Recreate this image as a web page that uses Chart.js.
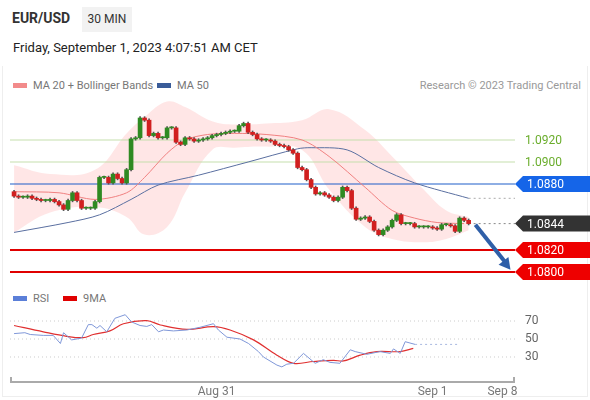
<!DOCTYPE html>
<html>
<head>
<meta charset="UTF-8">
<style>
  body { margin: 0; width: 590px; height: 400px; overflow: hidden; background: #fff; font-family: Roboto, 'Noto Sans', sans-serif; position: relative; }
  .frame { position: absolute; left: 2px; top: 66px; width: 584px; height: 330px; border: 1px solid #eee; border-top: none; }
  .sym { position: absolute; left: 12px; top: 10px; font-size: 14px; font-weight: bold; color: #333; }
  .tf { position: absolute; left: 82px; top: 7px; width: 50px; height: 25px; line-height: 25px; text-align: center; background: #f2f2f2; font-size: 12px; color: #333; }
  .date { position: absolute; left: 13px; top: 40px; font-size: 13px; color: #222; }
  .lg { position: absolute; font-size: 11px; color: #777; }
  .sw { display: inline-block; width: 14px; height: 5px; vertical-align: middle; margin-right: 6px; position: relative; top: -1px; }
  canvas { position: absolute; left: 0; }
</style>
<script src="https://cdn.jsdelivr.net/npm/chart.js"></script>
</head>
<body>
<div class="frame"></div>
<div class="sym">EUR/USD</div>
<div class="tf">30 MIN</div>
<div class="date">Friday, September 1, 2023 4:07:51 AM CET</div>
<div class="lg" style="left:13px;top:79px"><span class="sw" style="background:#f28b8b"></span>MA 20 + Bollinger Bands</div>
<div class="lg" style="left:157px;top:79px"><span class="sw" style="background:#3a5c99"></span>MA 50</div>
<div class="lg" style="right:9px;top:79px;color:#999">Research © 2023 Trading Central</div>
<div class="lg" style="left:13px;top:292px"><span class="sw" style="background:#5b7fd8"></span>RSI</div>
<div class="lg" style="left:63px;top:292px"><span class="sw" style="background:#e00000"></span>9MA</div>
<div style="position:absolute;left:0;top:95px;width:590px;height:190px"><canvas id="main"></canvas></div>
<div style="position:absolute;left:0;top:305px;width:590px;height:95px"><canvas id="rsi"></canvas></div>
<script>
// candle closes (open = previous close)
const closes = [1.0869,1.0868,1.0868,1.0869,1.0867,1.0866,1.0865,1.0865,1.0866,1.0864,
  1.0861,1.0857,1.0865,1.0872,1.0865,1.0858,1.0858,1.0858,1.0864,1.0886,
  1.0886,1.0881,1.0889,1.0885,1.0881,1.0893,1.0921,1.0922,1.0940,1.0938,
  1.0924,1.0926,1.0922,1.0922,1.0931,1.0931,1.0918,1.0916,1.0922,1.0921,
  1.0919,1.0920,1.0921,1.0922,1.0924,1.0925,1.0926,1.0927,1.0928,1.0928,
  1.0933,1.0935,1.0927,1.0925,1.0921,1.0920,1.0920,1.0919,1.0916,1.0915,
  1.0914,1.0911,1.0908,1.0895,1.0893,1.0884,1.0877,1.0871,1.0872,1.0870,
  1.0868,1.0865,1.0868,1.0877,1.0874,1.0858,1.0848,1.0849,1.0850,1.0846,
  1.0838,1.0834,1.0838,1.0841,1.0847,1.0852,1.0844,1.0844,1.0844,1.0841,
  1.0841,1.0841,1.0841,1.0840,1.0839,1.0843,1.0843,1.0842,1.0837,1.0849,
  1.0847,1.0844];
const firstOpen = 1.0873;
const ma20X = [0,10,18,25,29,34,38,43,49,56,64,70,78,84,89,94,100];
const ma20 = [1.0873,1.0872,1.0866,1.0872,1.0886,1.0908,1.0920,1.0925,1.0926,1.0925,1.0920,1.0905,1.0877,1.0856,1.0849,1.0845,1.0844];
const ma50X = [0,12,19,26,32,41,52,63,66,74,81,89,101];
const ma50 = [1.0836,1.0845,1.0852,1.0866,1.0879,1.0888,1.0900,1.0912,1.0913,1.0911,1.0895,1.0881,1.0867];
const bandX = [0,8,18,25,29,34,38,44,49,56,64,70,78,84,91,96,101];
const bandUpper = [1.0897,1.0889,1.0893,1.0926,1.0941,1.0955,1.0950,1.0937,1.0934,1.0935,1.0938,1.0948,1.0929,1.0905,1.0875,1.0856,1.0850];
const bandLower = [1.0836,1.0854,1.0859,1.0850,1.0834,1.0841,1.0872,1.0911,1.0913,1.0914,1.0911,1.0875,1.0841,1.0830,1.0827,1.0830,1.0838];
const resistLevels = [1.0920, 1.0900];
const pivotLevel = 1.0880;
const lastPrice = 1.0844;
const supportLevels = [1.0820, 1.0800];
const rsiX = [0,2.4,3.6,6.5,8.7,10.3,11,12.8,15,16.5,17.3,18.4,19.1,20.6,22.4,24.7,26.1,28,29.5,30.6,32.1,33.2,35.4,38.4,41.3,44.3,45.4,47.3,50.2,52.1,54.3,55.4,58.4,59.5,60.6,62.1,64.3,66.9,68.7,70.2,72.4,74.7,75.8,78.4,81.3,83.6,84.3,85.8,86.9,89.1];
const rsi = [56,57,55,54,54,45,57,49,51,66,66,62,65,58,73,77,69,65,64,66,58,60,59,60,63,67,60,52,50,45,36,30,21,19,22,23,34,23,27,24,23,38,36,33,36,34,39,34,47,44];
const ma9X = [0,6.5,11.7,15.4,17.6,21.3,24.3,29.5,32.5,38.4,44.3,48,53.2,58.4,62.1,66.5,71,73.2,76.9,80.6,85.8,88.7];
const ma9 = [65,58,53,51.5,55,59,67,70.4,65.6,60.7,63.7,60,49,32,23,25,26.3,25.6,32,36,36,39.6];
const rsiLevels = [70, 50, 30];
const dateTicks = [45, 93, 108.5];
const dateLabels = ['Aug 31', 'Sep 1', 'Sep 8'];

const X_MIN = -0.9, X_MAX = 111.3;
const pts = (xs, ys) => xs.map((x, i) => ({x: x, y: ys[i]}));
const hline = v => [{x: X_MIN, y: v}, {x: X_MAX, y: v}];

const opens = closes.map((c, i) => i === 0 ? firstOpen : closes[i - 1]);
const bodies = closes.map((c, i) => ({x: i, y: [opens[i], c]}));
const wicks = closes.map((c, i) => ({x: i, y: [Math.min(opens[i], c) - 0.00012, Math.max(opens[i], c) + 0.00012]}));
const candleCol = closes.map((c, i) => c >= opens[i] ? '#2f8a22' : '#d11f1f');

function tag(ctx, x, y, text, bg, fg) {
  ctx.fillStyle = bg;
  ctx.beginPath();
  ctx.moveTo(x, y); ctx.lineTo(x + 8, y - 8); ctx.lineTo(590, y - 8);
  ctx.lineTo(590, y + 8); ctx.lineTo(x + 8, y + 8); ctx.closePath(); ctx.fill();
  ctx.fillStyle = fg; ctx.font = '12px Roboto'; ctx.textBaseline = 'middle'; ctx.textAlign = 'left';
  ctx.fillText(text, x + 12, y + 1);
}

const mainDeco = {
  id: 'mainDeco',
  afterDatasetsDraw(chart) {
    const {ctx, scales: {x, y}} = chart;
    ctx.save();
    ctx.font = '12px Roboto'; ctx.textBaseline = 'middle';
    resistLevels.forEach(v => { ctx.fillStyle = '#6aad2c'; ctx.fillText(v.toFixed(4), 525, y.getPixelForValue(v) + 1); });
    tag(ctx, 515, y.getPixelForValue(pivotLevel), pivotLevel.toFixed(4), '#1565e8', '#fff');
    tag(ctx, 515, y.getPixelForValue(lastPrice), lastPrice.toFixed(4), '#333', '#fff');
    supportLevels.forEach(v => tag(ctx, 515, y.getPixelForValue(v), v.toFixed(4), '#ee0000', '#fff'));
    // arrow
    const x0 = x.getPixelForValue(102.5), y0 = y.getPixelForValue(1.0843);
    const x1 = x.getPixelForValue(110.3), y1 = y.getPixelForValue(1.0802);
    ctx.strokeStyle = '#2f5fa8'; ctx.fillStyle = '#2f5fa8'; ctx.lineWidth = 4;
    ctx.beginPath(); ctx.moveTo(x0, y0); ctx.lineTo(x1 - 4, y1 - 6); ctx.stroke();
    const a = Math.atan2(y1 - y0, x1 - x0);
    ctx.beginPath(); ctx.moveTo(x1, y1);
    ctx.lineTo(x1 - 13 * Math.cos(a - 0.5), y1 - 13 * Math.sin(a - 0.5));
    ctx.lineTo(x1 - 13 * Math.cos(a + 0.5), y1 - 13 * Math.sin(a + 0.5));
    ctx.closePath(); ctx.fill();
    ctx.restore();
  }
};

const lineDs = (data, color, width, extra) => Object.assign({type: 'line', data: data, borderColor: color, borderWidth: width, pointRadius: 0, tension: 0.3, fill: false, order: 5}, extra || {});

new Chart(document.getElementById('main'), {
  type: 'bar',
  data: { datasets: [
    lineDs(pts(bandX, bandUpper), 'rgba(0,0,0,0)', 0, {fill: '+1', backgroundColor: 'rgba(255,205,205,0.5)', tension: 0.4, order: 10}),
    lineDs(pts(bandX, bandLower), 'rgba(0,0,0,0)', 0, {tension: 0.4, order: 10}),
    ...resistLevels.map(v => lineDs(hline(v), '#c5e0ad', 1.2, {tension: 0, order: 8})),
    lineDs(hline(pivotLevel), '#1f5fc9', 1.2, {tension: 0, order: 8}),
    ...supportLevels.map(v => lineDs(hline(v), '#e00000', 2, {tension: 0, order: 8})),
    lineDs([{x: 101, y: lastPrice}, {x: X_MAX, y: lastPrice}], '#888', 1, {borderDash: [2, 3], tension: 0}),
    lineDs([{x: 101, y: ma50[ma50.length - 1]}, {x: X_MAX, y: ma50[ma50.length - 1]}], '#aaa', 1, {borderDash: [2, 3], tension: 0}),
    lineDs(pts(ma20X, ma20), '#f08080', 1, {order: 4}),
    lineDs(pts(ma50X, ma50), '#5a6fa0', 1, {order: 4}),
    {type: 'bar', data: wicks, backgroundColor: '#555', barThickness: 1, grouped: false, order: 2},
    {type: 'bar', data: bodies, backgroundColor: candleCol, barThickness: 4, grouped: false, minBarLength: 1, order: 1}
  ]},
  options: {
    responsive: true, maintainAspectRatio: false, animation: false,
    layout: {padding: {left: 10, right: 75, top: 0, bottom: 0}},
    plugins: {legend: {display: false}, tooltip: {enabled: false}, filler: {drawTime: 'beforeDatasetsDraw'}},
    scales: {
      x: {type: 'linear', min: X_MIN, max: X_MAX, display: false, offset: false},
      y: {min: 1.07882, max: 1.09609, display: false}
    }
  },
  plugins: [mainDeco]
});

const rsiDeco = {
  id: 'rsiDeco',
  afterDatasetsDraw(chart) {
    const {ctx, chartArea: ca, scales: {x, y}} = chart;
    ctx.save();
    ctx.font = '12px Roboto'; ctx.fillStyle = '#666'; ctx.textBaseline = 'middle';
    rsiLevels.forEach(v => ctx.fillText(String(v), 525, y.getPixelForValue(v)));
    ctx.strokeStyle = '#aaa'; ctx.lineWidth = 2;
    ctx.beginPath();
    ctx.moveTo(ca.left + 1, ca.bottom - 5); ctx.lineTo(ca.left + 1, ca.bottom);
    ctx.lineTo(ca.right - 1, ca.bottom); ctx.lineTo(ca.right - 1, ca.bottom - 5); ctx.stroke();
    ctx.textAlign = 'center'; ctx.fillStyle = '#777';
    dateTicks.forEach((t, i) => ctx.fillText(dateLabels[i], x.getPixelForValue(t), ca.bottom + 10));
    ctx.restore();
  }
};

new Chart(document.getElementById('rsi'), {
  type: 'line',
  data: { datasets: [
    ...rsiLevels.map(v => lineDs(hline(v), '#ccc', 1, {borderDash: [1, 3], tension: 0})),
    lineDs([{x: rsiX[rsiX.length - 1], y: rsi[rsi.length - 1]}, {x: 98.5, y: rsi[rsi.length - 1]}], '#a8b8e0', 1, {borderDash: [2, 3], tension: 0}),
    lineDs(pts(ma9X, ma9), '#e03030', 1.2, {tension: 0.35, order: 2}),
    lineDs(pts(rsiX, rsi), '#7f97d8', 1, {tension: 0, order: 1})
  ]},
  options: {
    responsive: true, maintainAspectRatio: false, animation: false,
    layout: {padding: {left: 10, right: 75, top: 0, bottom: 18}},
    plugins: {legend: {display: false}, tooltip: {enabled: false}},
    scales: {
      x: {type: 'linear', min: X_MIN, max: X_MAX, display: false},
      y: {min: 2.2, max: 87.8, display: false}
    }
  },
  plugins: [rsiDeco]
});
</script>
</body>
</html>
